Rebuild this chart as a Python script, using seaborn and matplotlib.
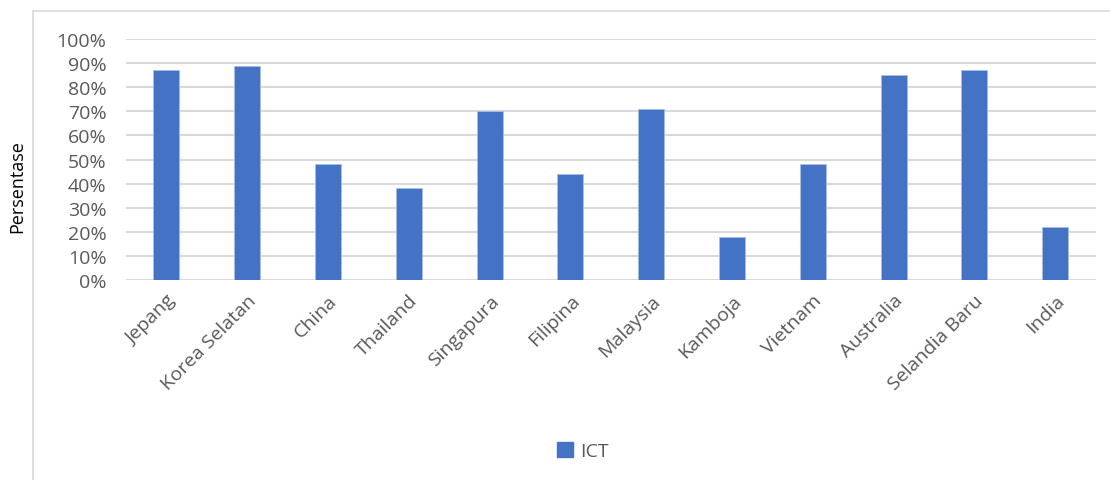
import pandas as pd
import matplotlib.pyplot as plt
import seaborn as sns
from matplotlib.patches import Rectangle
from matplotlib.ticker import PercentFormatter

# data
countries = ["Jepang", "Korea Selatan", "China", "Thailand", "Singapura",
             "Filipina", "Malaysia", "Kamboja", "Vietnam", "Australia",
             "Selandia Baru", "India"]
ict_pct = [87, 89, 48, 38, 70, 44, 71, 18, 48, 85, 87, 22]
series_name = "ICT"

BAR_COLOR = "#4472C4"
TEXT_COLOR = "#595959"
GRID_COLOR = "#D9D9D9"


def main():
    df = pd.DataFrame({"Negara": countries,
                       "Nilai": [v / 100 for v in ict_pct],
                       "Seri": series_name})

    sns.set_style("white")
    plt.rcParams["font.family"] = ["Open Sans", "DejaVu Sans"]

    fig = plt.figure(figsize=(11.1, 4.81), dpi=100)
    ax = fig.add_axes([0.1135, 0.4158, 0.8735, 0.501])

    # chart frame (light border like the office chart)
    fig.patches.append(Rectangle((33 / 1110, -0.1), 1.2, 1 - 12 / 481 + 0.1,
                                 transform=fig.transFigure, fill=False,
                                 edgecolor=GRID_COLOR, linewidth=1.2))

    sns.barplot(data=df, x="Negara", y="Nilai", hue="Seri", palette=[BAR_COLOR],
                saturation=1, width=0.32, dodge=False, edgecolor="#A9BDE5",
                linewidth=0.6, ax=ax, zorder=3)

    ax.set_ylim(0, 1)
    ax.set_yticks([i / 10 for i in range(11)])
    ax.yaxis.set_major_formatter(PercentFormatter(1.0, decimals=0))
    ax.set_xlim(-0.5, len(countries) - 0.5)
    ax.grid(axis="y", color=GRID_COLOR, linewidth=1.5, zorder=0)
    for s in ax.spines.values():
        s.set_visible(False)
    ax.tick_params(axis="both", length=0, colors=TEXT_COLOR, labelsize=14)
    ax.tick_params(axis="y", pad=14)
    plt.setp(ax.get_xticklabels(), rotation=45, ha="right",
             rotation_mode="anchor")
    ax.tick_params(axis="x", pad=8)
    ax.set_xlabel("")
    ax.set_ylabel("")

    fig.text(17 / 1110, 1 - 187 / 481, "Persentase", rotation=90,
             ha="center", va="center", fontsize=13, color="black")

    ax.legend_.remove()
    handles = [Rectangle((0, 0), 1, 1, color=BAR_COLOR)]
    fig.legend(handles, [series_name], loc="center",
               bbox_to_anchor=(583 / 1110, 1 - 452 / 481), frameon=False,
               fontsize=14, labelcolor=TEXT_COLOR, handlelength=0.8,
               handleheight=0.8, handletextpad=0.4)

    fig.savefig("out.png", dpi=100)
    plt.close(fig)


if __name__ == "__main__":
    main()
